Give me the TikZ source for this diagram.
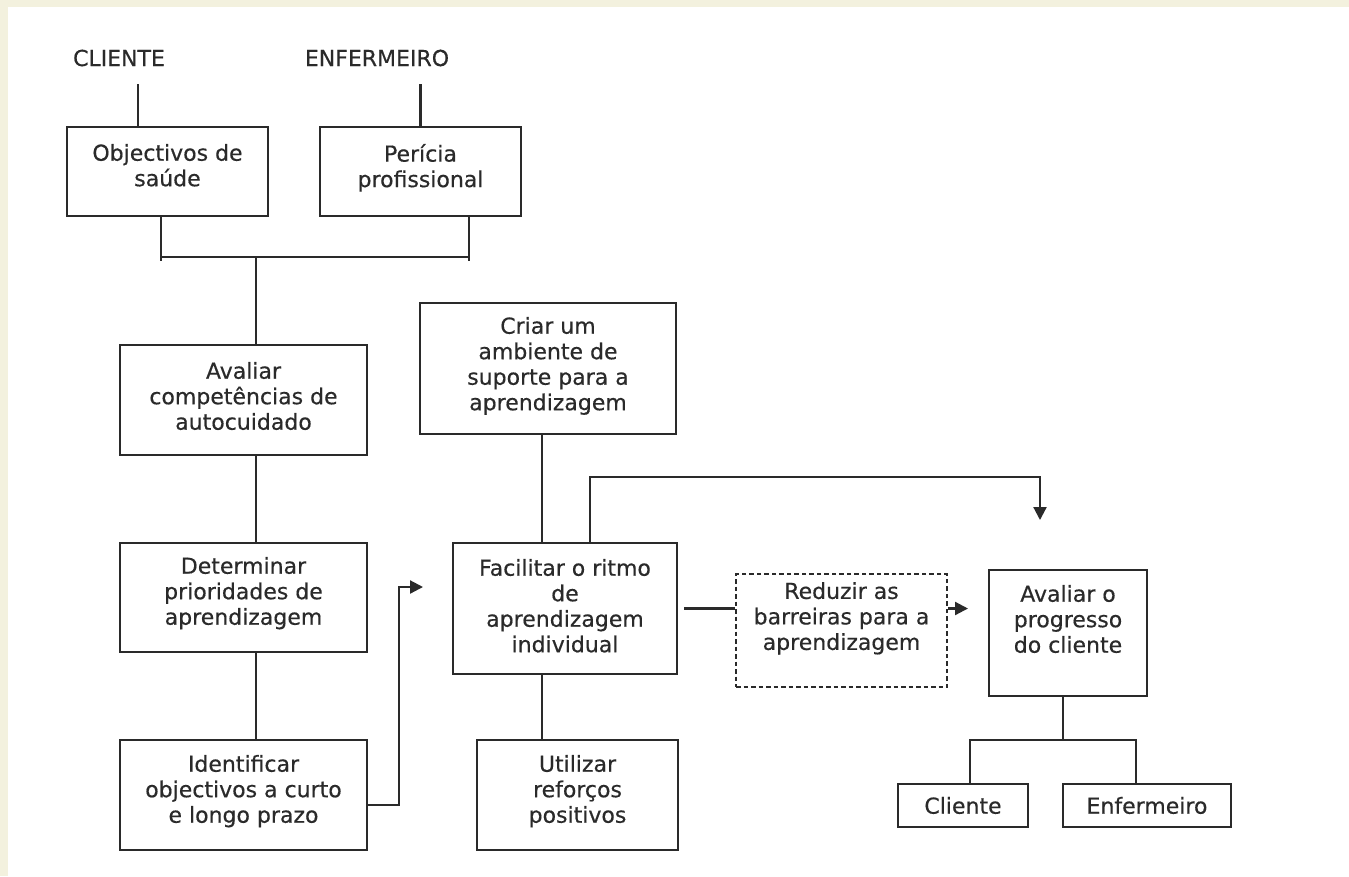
\documentclass[tikz,border=0pt]{standalone}
\usepackage{fontspec}
\setmainfont{DejaVu Sans}[FakeBold=0.4]
\usetikzlibrary{arrows.meta}
\definecolor{ink}{HTML}{2A2A2A}
\definecolor{cream}{HTML}{F3F1DE}
\tikzset{
 box/.style 2 args={draw=ink, line width=2.4pt, minimum width=#1, minimum height=#2, inner sep=0pt},
 txt/.style={anchor=north, align=center, inner sep=0pt, yshift=-16pt, text=ink, font=\fontsize{22}{25.5}\selectfont},
 head/.style={text=ink, font=\fontsize{22}{25.5}\selectfont, inner sep=0pt},
 link/.style={draw=ink, line width=2.2pt},
 tip/.style={link, -{Triangle[length=13pt,width=13pt]}},
 dash box/.style={line width=2pt, dash pattern=on 4.5pt off 3pt},
}
\begin{document}
\begin{tikzpicture}[x=1pt,y=-1pt]
 \fill[cream] (0,0) rectangle (1349,876);
 \fill[white] (8,7) rectangle (1349,876);
 \useasboundingbox (0,0) rectangle (1349,876);
 % top row
 \node[head] (cliente) at (119,58) {CLIENTE};
 \node[head] (enferm) at (377,58) {ENFERMEIRO};
 \node[box={201pt}{89pt}, label={[txt,yshift=-2pt]north:{Objectivos de\\saúde}}] (obj) at (167.5,171.5) {};
 \node[box={201pt}{89pt}, label={[txt,yshift=-2pt]north:{Perícia\\profissional}}] (peric) at (420.5,171.5) {};
 % left column
 \node[box={247pt}{110pt}, label={[txt,yshift=-2pt]north:{Avaliar\\competências de\\autocuidado}}] (avalcomp) at (243.5,400) {};
 \node[box={247pt}{109pt}, label={[txt,yshift=1pt]north:{Determinar\\prioridades de\\aprendizagem}}] (determ) at (243.5,597.5) {};
 \node[box={247pt}{110pt}, label={[txt]north:{Identificar\\objectivos a curto\\e longo prazo}}] (ident) at (243.5,795) {};
 % middle column
 \node[box={256pt}{131pt}, label={[txt,yshift=1pt]north:{Criar um\\ambiente de\\suporte para a\\aprendizagem}}] (criar) at (548,368.5) {};
 \node[box={224pt}{131pt}, label={[txt,yshift=-1pt]north:{Facilitar o ritmo\\de\\aprendizagem\\individual}}] (facil) at (565,608.5) {};
 \node[box={201pt}{110pt}, label={[txt]north:{Utilizar\\reforços\\positivos}}] (util) at (577.5,795) {};
 % right part
 \node[box={211pt}{113pt}, dash box, label={[txt,yshift=7pt]north:{Reduzir as\\barreiras para a\\aprendizagem}}] (reduz) at (841.5,630.5) {};
 \node[box={158pt}{126pt}, label={[txt]north:{Avaliar o\\progresso\\do cliente}}] (progr) at (1068,633) {};
 \node[box={130pt}{43pt}, head] (cli) at (963,805.5) {Cliente};
 \node[box={168pt}{43pt}, head] (enf) at (1147,805.5) {Enfermeiro};
 \coordinate (join) at (256,256);
 \coordinate (facil in) at (423,587);
 \coordinate (progr in) at (1040,520);
 \coordinate (reduz out) at (968,608.5);
 \coordinate (fork) at (1063,740);
 % connectors
 \draw[link, shorten >=17pt] ([xshift=72pt]obj.north west) -- ([xshift=72pt]obj.north west |- cliente.south);
 \draw[link, shorten >=17pt] (peric.north) -- (peric.north |- enferm.south);
 \draw[link] ([xshift=95pt]obj.south west) -- ++(0,44);
 \draw[link] ([xshift=150pt]peric.south west) -- ++(0,44);
 \draw[link] ([xshift=95pt,yshift=-40pt]obj.south west) -- ([xshift=150pt,yshift=-40pt]peric.south west);
 \draw[link] (join) -- (avalcomp.north -| join);
 \draw[link] (avalcomp.south -| join) -- (determ.north -| join);
 \draw[link] (determ.south -| join) -- (ident.north -| join);
 \draw[tip] ([yshift=-10pt]ident.east) -| ([xshift=-24pt]facil in) -- (facil in);
 \draw[link] ([xshift=-23pt]facil.north) -- ([xshift=-23pt]facil.north |- criar.south);
 \draw[link] ([xshift=-23pt]facil.south) -- ([xshift=-23pt]facil.south |- util.north);
 \draw[tip] ([xshift=25pt]facil.north) |- ([yshift=43pt]progr in) -- (progr in);
 \draw[link, shorten <=6pt] (facil.east) -- (facil.east -| reduz.west);
 \draw[tip] (reduz.east |- reduz out) -- (reduz out);
 \draw[link] (progr.south -| fork) -- (fork);
 \draw[link] ([xshift=7pt]cli.north) |- ([xshift=-11pt]enf.north |- fork) -- ([xshift=-11pt]enf.north);
\end{tikzpicture}
\end{document}
